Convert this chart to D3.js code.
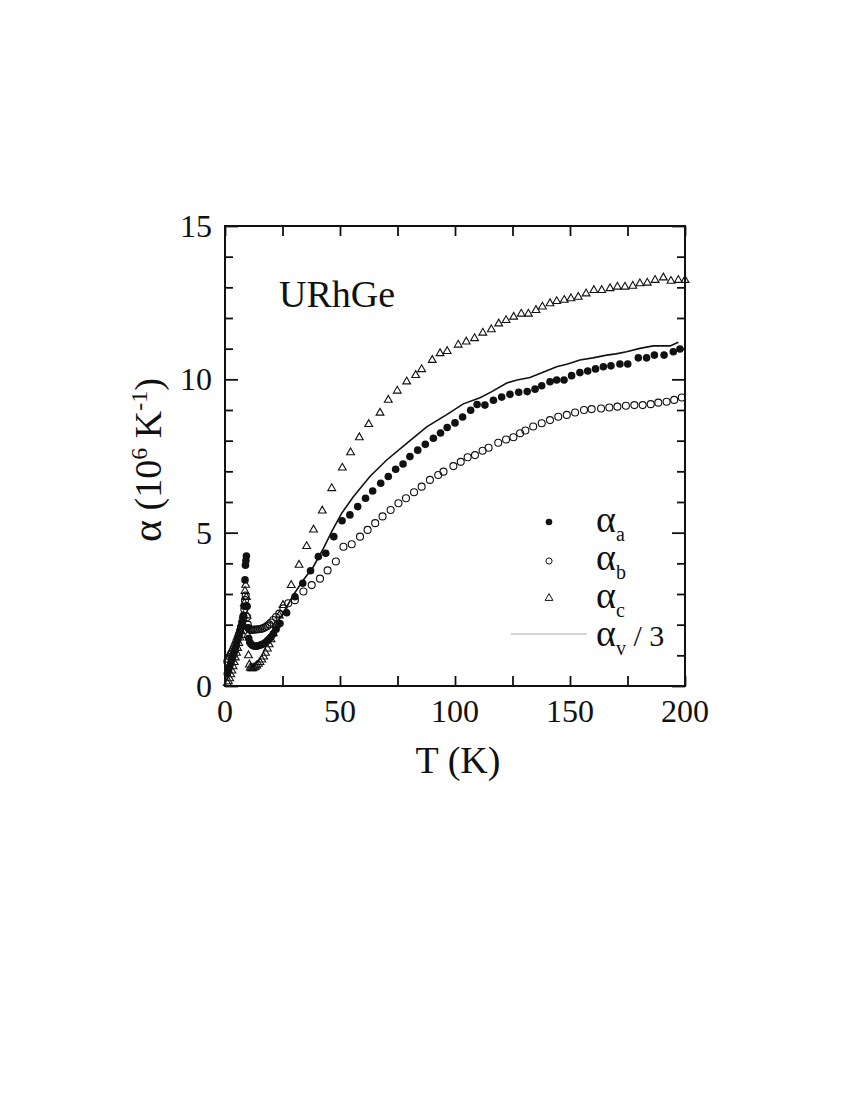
<!DOCTYPE html>
<html>
<head>
<meta charset="utf-8">
<script src="https://cdn.jsdelivr.net/npm/d3@7"></script>
<style>
  html, body { margin: 0; padding: 0; background: #fff; }
  svg { display: block; }
  text { font-family: "Liberation Serif", "DejaVu Serif", serif; fill: #111; }
</style>
</head>
<body>
<script>
// ---------------- data (T in K, alpha in 10^-6 K^-1) ----------------
const xTickValues = [0, 50, 100, 150, 200];
const yTickValues = [0, 5, 10, 15];
const sampleLabel = "URhGe";

const alphaA = [
  [1.0,0.40],[1.5,0.50],[2.0,0.62],[2.5,0.74],[3.0,0.86],[3.5,0.98],[4.0,1.10],[4.5,1.23],
  [5.0,1.36],[5.5,1.50],[6.0,1.64],[6.5,1.78],[7.0,1.93],[7.5,2.10],[8.0,2.30],[8.4,2.60],
  [8.7,3.46],[8.9,3.94],[9.1,4.09],[9.3,4.24],[9.6,2.60],[9.9,1.90],[10.3,1.55],[10.8,1.42],
  [11.4,1.36],[12.0,1.32],[12.8,1.30],[13.6,1.30],[14.4,1.31],[15.2,1.33],[16.0,1.35],[16.8,1.38],
  [17.6,1.42],[18.4,1.47],[19.2,1.53],[20.0,1.60],[21.0,1.70],[22.2,1.85],[23.9,2.04],[26.8,2.39],
  [30.4,2.91],[33.8,3.35],[37.2,3.76],[40.6,4.22],[43.8,4.33],[47.3,4.87],[50.9,5.39],[54.3,5.58],
  [57.7,5.85],[61.1,6.12],[64.2,6.36],[67.7,6.61],[71.0,6.83],[74.2,7.07],[77.4,7.24],[80.4,7.48],
  [83.8,7.69],[87.1,7.88],[90.6,8.08],[93.7,8.25],[96.6,8.43],[100.0,8.58],[103.3,8.77],[106.8,8.99],
  [109.6,9.18],[113.0,9.16],[116.7,9.32],[120.3,9.42],[123.9,9.51],[127.7,9.58],[131.4,9.60],[134.8,9.68],
  [137.7,9.79],[141.3,9.92],[144.2,9.98],[147.4,9.98],[150.7,10.12],[154.3,10.22],[157.7,10.27],[161.1,10.34],
  [164.5,10.41],[167.8,10.44],[171.7,10.50],[175.1,10.50],[179.7,10.70],[183.3,10.70],[186.7,10.79],[190.9,10.79],
  [194.9,10.90],[197.8,10.99]
];

const alphaB = [
  [1.0,0.80],[1.5,0.88],[2.0,0.95],[2.5,1.03],[3.0,1.10],[3.5,1.18],[4.0,1.27],[4.5,1.36],
  [5.0,1.46],[5.5,1.56],[6.0,1.67],[6.5,1.79],[7.0,1.92],[7.5,2.07],[8.0,2.25],[8.4,2.50],
  [8.7,2.80],[9.0,2.95],[9.3,2.60],[9.6,2.25],[9.9,2.00],[10.3,1.88],[10.8,1.84],[11.4,1.83],
  [12.0,1.83],[12.8,1.84],[13.6,1.84],[14.4,1.85],[15.2,1.86],[16.0,1.87],[16.8,1.89],[17.6,1.92],
  [18.4,1.96],[19.2,2.01],[20.0,2.07],[21.0,2.15],[22.2,2.25],[23.6,2.36],[25.4,2.53],[27.5,2.70],
  [30.4,2.80],[34.1,3.08],[37.7,3.29],[41.3,3.50],[44.6,3.77],[48.2,4.06],[51.5,4.54],[55.1,4.62],
  [58.7,4.87],[62.0,5.09],[65.3,5.31],[68.5,5.53],[72.0,5.74],[75.4,5.96],[78.7,6.12],[82.2,6.32],
  [85.5,6.50],[89.1,6.72],[92.7,6.88],[95.0,6.99],[99.3,7.17],[102.5,7.31],[105.5,7.46],[108.7,7.53],
  [112.0,7.67],[114.6,7.77],[118.8,7.93],[122.2,8.04],[125.4,8.11],[128.3,8.24],[130.6,8.33],[134.0,8.46],
  [137.7,8.57],[141.3,8.67],[144.9,8.78],[148.6,8.84],[152.2,8.92],[156.1,9.00],[159.4,9.03],[163.5,9.05],
  [167.1,9.08],[170.6,9.11],[174.3,9.14],[178.0,9.16],[181.6,9.16],[185.1,9.19],[188.4,9.24],[192.0,9.27],
  [195.3,9.33],[198.6,9.41]
];

const alphaC = [
  [1.0,0.10],[1.5,0.15],[2.0,0.25],[2.5,0.38],[3.0,0.50],[3.5,0.64],[4.0,0.78],[4.5,0.93],
  [5.0,1.08],[5.5,1.24],[6.0,1.40],[6.5,1.58],[7.0,1.78],[7.5,2.00],[8.0,2.30],[8.4,2.70],
  [8.7,3.10],[9.0,3.30],[9.3,2.90],[9.6,2.30],[9.9,1.66],[10.2,1.00],[10.6,0.70],[11.0,0.60],
  [11.5,0.58],[12.0,0.58],[12.6,0.60],[13.2,0.63],[13.8,0.67],[14.5,0.72],[15.2,0.78],[16.0,0.86],
  [16.8,0.96],[17.6,1.08],[18.4,1.22],[19.2,1.36],[20.0,1.52],[21.0,1.72],[22.2,1.98],[23.6,2.30],
  [25.2,2.64],[28.8,3.29],[32.2,3.95],[35.5,4.56],[38.5,5.10],[42.3,5.72],[46.4,6.45],[51.0,7.12],
  [54.6,7.62],[58.4,8.11],[62.5,8.54],[67.4,8.91],[71.0,9.33],[74.9,9.63],[79.0,9.93],[82.9,10.14],
  [85.5,10.33],[90.1,10.63],[93.5,10.85],[96.6,10.92],[101.4,11.13],[104.9,11.23],[108.5,11.34],[112.1,11.52],
  [115.8,11.63],[119.0,11.82],[122.2,11.93],[125.5,12.04],[128.8,12.14],[131.9,12.14],[135.2,12.26],[138.0,12.37],
  [141.3,12.48],[144.2,12.55],[147.5,12.59],[150.4,12.64],[153.6,12.69],[157.0,12.80],[160.4,12.91],[163.8,12.91],
  [167.4,12.97],[170.6,13.02],[173.9,13.02],[177.3,13.05],[180.4,13.13],[183.6,13.15],[187.0,13.24],[190.6,13.32],
  [193.9,13.21],[197.1,13.24],[200.0,13.24]
];

const alphaV3 = [
  [14.0,1.29],[16.0,1.36],[18.0,1.50],[20.0,1.73],[22.0,1.98],[24.0,2.23],[27.0,2.60],[30.0,3.00],
  [34.0,3.45],[38.4,3.89],[42.8,4.49],[46.5,5.05],[50.7,5.63],[55.8,6.17],[63.0,6.83],[70.3,7.37],
  [79.0,7.91],[87.7,8.45],[96.4,8.85],[103.6,9.20],[110.9,9.40],[116.0,9.60],[122.5,9.88],[127.0,9.98],
  [132.6,10.06],[138.0,10.22],[144.2,10.41],[149.0,10.50],[154.3,10.63],[160.0,10.70],[165.9,10.79],[170.0,10.83],
  [174.6,10.90],[180.4,11.01],[186.2,11.09],[193.5,11.09],[197.1,11.21]
];

// ---------------- layout ----------------
const W = 850, H = 1100;
const L = 225, R = 685, T = 226, B = 686;

const svg = d3.select("body").append("svg").attr("width", W).attr("height", H);

const x = d3.scaleLinear().domain([0, 200]).range([L, R]);
const y = d3.scaleLinear().domain([0, 15]).range([B, T]);

// ---------------- axes (ticks inside on all four sides) ----------------
const xMinor = d3.range(0, 201, 25);
const yMinor = d3.range(0, 16, 1);

function tickOnly(axis) { return g => { g.call(axis); g.select(".domain").remove(); g.selectAll("text").remove(); g.selectAll("line").attr("stroke", "#111").attr("stroke-width", 1.8); }; }

svg.append("g").attr("transform", `translate(0,${B})`)
  .call(tickOnly(d3.axisTop(x).tickValues(xMinor).tickSize(10)));
svg.append("g").attr("transform", `translate(0,${T})`)
  .call(tickOnly(d3.axisBottom(x).tickValues(xMinor).tickSize(10)));
svg.append("g").attr("transform", `translate(${L},0)`)
  .call(tickOnly(d3.axisRight(y).tickValues(yMinor.filter(v => v % 5 !== 0)).tickSize(8)));
svg.append("g").attr("transform", `translate(${L},0)`)
  .call(tickOnly(d3.axisRight(y).tickValues(yTickValues).tickSize(13)));
svg.append("g").attr("transform", `translate(${R},0)`)
  .call(tickOnly(d3.axisLeft(y).tickValues(yMinor.filter(v => v % 5 !== 0)).tickSize(8)));
svg.append("g").attr("transform", `translate(${R},0)`)
  .call(tickOnly(d3.axisLeft(y).tickValues(yTickValues).tickSize(13)));

// tick labels
svg.append("g").selectAll("text").data(xTickValues).join("text")
  .attr("x", d => x(d)).attr("y", 722)
  .attr("text-anchor", "middle").attr("font-size", 32).text(d => d);
svg.append("g").selectAll("text").data(yTickValues).join("text")
  .attr("x", 212).attr("y", d => y(d) + 11)
  .attr("text-anchor", "end").attr("font-size", 32).text(d => d);

// axis titles
svg.append("text").attr("x", (L + R) / 2 + 3).attr("y", 773)
  .attr("text-anchor", "middle").attr("font-size", 38).text("T (K)");

const yt = svg.append("text")
  .attr("transform", `translate(161,460) rotate(-90)`)
  .attr("text-anchor", "middle").attr("font-size", 38);
yt.append("tspan").attr("font-size", 42).text("\u03B1");
yt.append("tspan").text(" (10");
yt.append("tspan").attr("font-size", 24).attr("dy", -14).text("6");
yt.append("tspan").attr("dy", 14).text(" K");
yt.append("tspan").attr("font-size", 24).attr("dy", -14).text("-1");
yt.append("tspan").attr("dy", 14).text(")");

// sample label
svg.append("text").attr("x", 279).attr("y", 307).attr("font-size", 38).text(sampleLabel);

// ---------------- data marks ----------------
const plot = svg.append("g");
const triPath = "M0,-4.4L3.9,2.4L-3.9,2.4Z";

plot.append("g").selectAll("path").data(alphaC).join("path")
  .attr("d", triPath)
  .attr("transform", d => `translate(${x(d[0])},${y(d[1])})`)
  .attr("fill", "none").attr("stroke", "#111").attr("stroke-width", 1.1);

plot.append("g").selectAll("circle").data(alphaB).join("circle")
  .attr("cx", d => x(d[0])).attr("cy", d => y(d[1])).attr("r", 3.5)
  .attr("fill", "none").attr("stroke", "#111").attr("stroke-width", 1.1);

plot.append("g").selectAll("circle").data(alphaA).join("circle")
  .attr("cx", d => x(d[0])).attr("cy", d => y(d[1])).attr("r", 3.8)
  .attr("fill", "#111");

plot.append("path").datum(alphaV3)
  .attr("d", d3.line().x(d => x(d[0])).y(d => y(d[1])))
  .attr("fill", "none").attr("stroke", "#111").attr("stroke-width", 1.6);

// frame
svg.append("rect").attr("x", L).attr("y", T).attr("width", R - L).attr("height", B - T)
  .attr("fill", "none").attr("stroke", "#111").attr("stroke-width", 2);

// ---------------- legend ----------------
const lg = svg.append("g");
const legendRows = [
  { sub: "a", base: 532 },
  { sub: "b", base: 570 },
  { sub: "c", base: 608 },
  { sub: "v", base: 646 }
];
lg.append("circle").attr("cx", 549).attr("cy", 522).attr("r", 3.3).attr("fill", "#111");
lg.append("circle").attr("cx", 549).attr("cy", 561).attr("r", 3.1).attr("fill", "none").attr("stroke", "#111").attr("stroke-width", 1);
lg.append("path").attr("d", triPath).attr("transform", "translate(549,598)")
  .attr("fill", "none").attr("stroke", "#111").attr("stroke-width", 1);
lg.append("line").attr("x1", 511).attr("x2", 587).attr("y1", 634).attr("y2", 634)
  .attr("stroke", "#aaa").attr("stroke-width", 1);

legendRows.forEach((r, i) => {
  const t = lg.append("text").attr("x", 596).attr("y", r.base).attr("font-size", 38);
  t.append("tspan").text("\u03B1");
  t.append("tspan").attr("font-size", 20).attr("dy", 9).text(r.sub);
  if (i === 3) t.append("tspan").attr("font-size", 30).attr("dy", -9).text(" / 3");
});
</script>
</body>
</html>
